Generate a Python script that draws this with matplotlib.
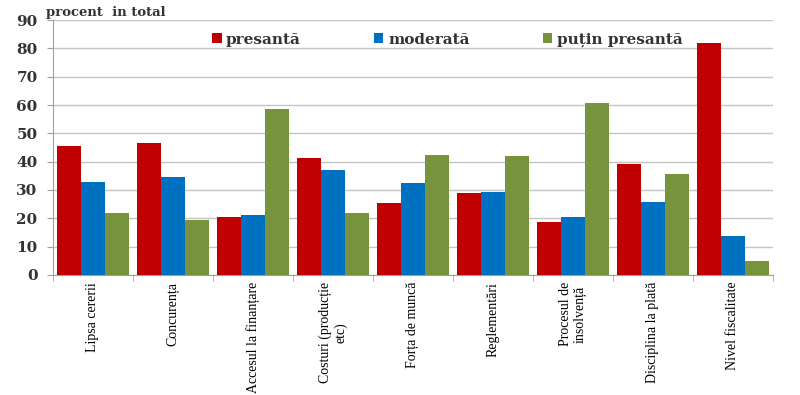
import matplotlib
matplotlib.use("Agg")
import matplotlib.pyplot as plt
import numpy as np

categories = [
    "Lipsa cererii",
    "Concurența",
    "Accesul la finanțare",
    "Costuri (producție\netc)",
    "Forța de muncă",
    "Reglementări",
    "Procesul de\ninsolvență",
    "Disciplina la plată",
    "Nivel fiscalitate",
]
presanta = [45.5, 46.5, 20.5, 41.3, 25.4, 28.8, 18.8, 39.2, 81.8]
moderata = [33.0, 34.6, 21.2, 37.0, 32.6, 29.2, 20.6, 25.7, 13.7]
putin_presanta = [21.9, 19.4, 58.6, 21.9, 42.4, 42.1, 60.8, 35.6, 4.9]
series_names = ["presantă", "moderată", "puțin presantă"]
colors = ["#C00000", "#0070C0", "#77933C"]

fig = plt.figure(figsize=(8, 3.95), dpi=100)
ax = fig.add_axes([0.066, 0.304, 0.9, 0.645])

x = np.arange(len(categories))
width = 0.3
for i, (vals, name, col) in enumerate(zip([presanta, moderata, putin_presanta], series_names, colors)):
    ax.bar(x + (i - 1) * width, vals, width, color=col, label=name, zorder=3)

ax.set_xlim(-0.5, len(categories) - 0.5)
ax.set_ylim(0, 90)
ax.set_yticks(range(0, 91, 10))
ax.yaxis.grid(True, color="#C4C4C4", linewidth=1, zorder=0)
for s in ["top", "right"]:
    ax.spines[s].set_visible(False)
ax.spines["left"].set_color("#A0A0A0")
ax.spines["bottom"].set_color("#A0A0A0")

ax.set_xticks(x)
ax.set_xticklabels(categories, rotation=90, family="Liberation Serif", fontsize=10,
                   va="top", ha="center", multialignment="center")
ax.tick_params(axis="x", which="major", length=0, pad=5)
ax.set_xticks(np.arange(-0.5, len(categories), 1), minor=True)
ax.tick_params(axis="x", which="minor", length=4, color="#A0A0A0")
ax.tick_params(axis="y", length=4, color="#A0A0A0", pad=7)
for lab in ax.get_yticklabels():
    lab.set_family("DejaVu Serif")
    lab.set_fontsize(11)
    lab.set_fontweight("bold")
    lab.set_color("#333333")

fig.text(0.057, 0.968, "procent  in total", family="DejaVu Serif", fontsize=9.5,
         fontweight="bold", color="#333333", va="center")

leg = ax.legend(loc="upper center", bbox_to_anchor=(0.548, 1.005), ncol=3, frameon=False,
                handlelength=0.6, handleheight=0.6, handletextpad=0.3, columnspacing=4.8,
                prop={"family": "DejaVu Serif", "size": 11, "weight": "bold"})
for t in leg.get_texts():
    t.set_color("#333333")

fig.savefig("out.png", dpi=100)
